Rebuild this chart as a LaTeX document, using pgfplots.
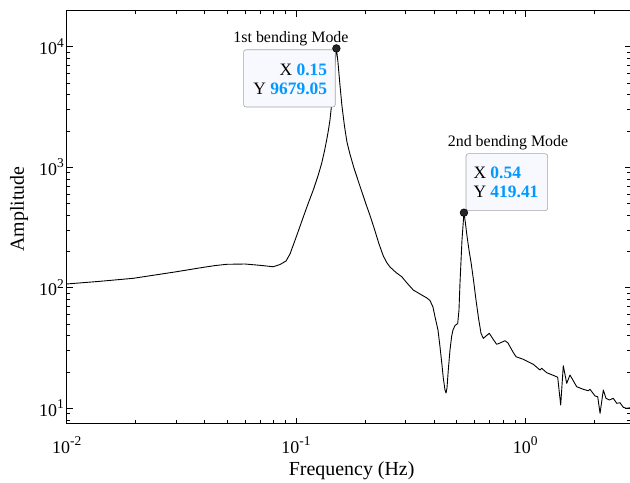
\documentclass[border=0pt]{standalone}
\usepackage{fontspec}
\setmainfont{Liberation Serif}
\usepackage{pgfplots}
\pgfplotsset{compat=1.18}
\definecolor{tipblue}{RGB}{0,153,255}
\definecolor{tipfill}{RGB}{248,248,255}
\definecolor{tipedge}{RGB}{165,165,165}
\newcommand\sups[1]{\raisebox{7.5bp}{\fontsize{13.5}{13.5}\selectfont #1}}
\begin{document}
\begin{tikzpicture}
\begin{axis}[
  name=ax,
  at={(0,0)}, anchor=south west,
  scale only axis, width=564.3bp, height=413bp,
  xmode=log, ymode=log,
  xmin=0.01, xmax=2.89, ymin=7.44, ymax=19900,
  axis line style={line width=0.8bp},
  every tick/.style={black, line width=0.6bp},
  major tick length=6bp, minor tick length=3.5bp,
  tick align=inside,
  xtick={0.01,0.1,1},
  xticklabels={10\sups{-2},10\sups{-1},10\sups{0}},
  minor xtick={0.02,0.03,0.04,0.05,0.06,0.07,0.08,0.09,0.2,0.3,0.4,0.5,0.6,0.7,0.8,0.9,2},
  ytick={10,100,1000,10000},
  yticklabels={10\sups{1},10\sups{2},10\sups{3},10\sups{4}},
  minor ytick={8,9,20,30,40,50,60,70,80,90,200,300,400,500,600,700,800,900,2000,3000,4000,5000,6000,7000,8000,9000},
  tick label style={font=\fontsize{18}{18}\selectfont},
  xticklabel style={anchor=base, inner sep=0pt, yshift=-29.6bp},
  yticklabel style={anchor=east, inner sep=0pt, xshift=-2.7bp},
  xlabel={Frequency (Hz)}, ylabel={Amplitude},
  label style={font=\fontsize{20}{20}\selectfont},
  xlabel style={at={(axis description cs:0.505,0)}, anchor=base, inner sep=0pt, yshift=-52.3bp},
  ylabel style={at={(axis description cs:-0.0845,0.52)}, anchor=center, inner sep=0pt},
]
\addplot[black, line width=0.9bp, line join=round] coordinates {
(0.01,107.4) (0.01397,113.0) (0.01952,119.7) (0.02427,127.5) (0.03018,135.8)
(0.03942,147.6) (0.04433,152.6) (0.04985,156.4) (0.05990,157.3) (0.06966,153.4)
(0.0796,149.3) (0.08516,155.8) (0.09045,166.5) (0.09415,190.4) (0.09732,226.1)
(0.10203,289.9) (0.10760,386.2) (0.11278,495.1) (0.11894,646.9) (0.12468,845.3)
(0.12940,1077) (0.13309,1362) (0.13606,1681) (0.13854,2036) (0.14065,2464)
(0.14249,3099) (0.14422,3974) (0.14641,5824) (0.14833,7756) (0.15,9679.05)
(0.15240,7465) (0.15549,4810) (0.15865,3220) (0.16268,2198) (0.16681,1619)
(0.17191,1287) (0.17896,984.8) (0.18629,783.1) (0.19393,622.6) (0.20188,495.1)
(0.21135,386.2) (0.22112,295.5) (0.23017,230.5) (0.24033,183.3) (0.24942,160.3)
(0.25704,148.5) (0.27297,133.7) (0.28907,123.4) (0.30486,109.4) (0.32467,95.7)
(0.35331,87.0) (0.37259,82.1) (0.38399,78.3) (0.39573,69.15) (0.40376,57.45)
(0.41612,44.57) (0.42457,32.38) (0.43318,22.83) (0.43887,17.81) (0.44642,14.16)
(0.45093,13.37) (0.45549,14.71) (0.46146,20.75) (0.46942,30.40) (0.47750,39.72)
(0.48377,44.57) (0.49359,48.57) (0.50715,50.46) (0.51380,65.3) (0.51899,109.4)
(0.52952,248.8) (0.54,419.41) (0.54739,350.9) (0.55681,268.6) (0.56810,205.6)
(0.57963,163.4) (0.59437,115.8) (0.60954,79.07) (0.62503,56.05) (0.64089,41.84)
(0.6558,38.0) (0.67385,39.72) (0.6966,41.84) (0.72300,37.52) (0.7503,33.9)
(0.77564,34.76) (0.8156,36.3) (0.84065,34.76) (0.8576,32.4) (0.88378,29.27)
(0.9108,26.76) (0.9802,25.46) (1.0837,23.14) (1.159,20.75) (1.179,21.44)
(1.2397,19.71) (1.3472,18.50) (1.3843,18.05) (1.4267,10.63) (1.4644,22.53)
(1.5155,16.09) (1.5663,18.86) (1.6755,15.08) (1.790,14.35) (1.883,13.97)
(1.915,14.35) (2.0137,12.63) (2.069,12.46) (2.118,9.07) (2.189,14.16)
(2.249,12.08) (2.3248,11.70) (2.420,12.08) (2.5035,10.98) (2.588,11.11)
(2.676,10.17) (2.768,9.98) (2.862,10.09)
};
% data tip 1
\node[draw=tipedge, fill=tipfill, rounded corners=2.5bp, line width=0.6bp, inner sep=0pt,
  minimum width=91.7bp, minimum height=57.3bp, anchor=south west,
  xshift=-93.1bp, yshift=-58.9bp] at (axis cs:0.15,9679.05) {};
\node[anchor=base east, inner sep=0pt, xshift=-9.1bp, yshift=-26.6bp, font=\fontsize{17.5}{17.5}\selectfont]
  at (axis cs:0.15,9679.05) {X \textcolor{tipblue}{\textbf{0.15}}};
\node[anchor=base east, inner sep=0pt, xshift=-9.1bp, yshift=-45.6bp, font=\fontsize{17.5}{17.5}\selectfont]
  at (axis cs:0.15,9679.05) {Y \textcolor{tipblue}{\textbf{9679.05}}};
\node[anchor=base, inner sep=0pt, xshift=-45.4bp, yshift=6.4bp, font=\fontsize{16}{16}\selectfont]
  at (axis cs:0.15,9679.05) {1st bending Mode};
% data tip 2
\node[draw=tipedge, fill=tipfill, rounded corners=2.5bp, line width=0.6bp, inner sep=0pt,
  minimum width=81.6bp, minimum height=57bp, anchor=south west,
  xshift=1.8bp, yshift=1.7bp] at (axis cs:0.54,419.41) {};
\node[anchor=base west, inner sep=0pt, xshift=9.4bp, yshift=34.4bp, font=\fontsize{17.5}{17.5}\selectfont]
  at (axis cs:0.54,419.41) {X \textcolor{tipblue}{\textbf{0.54}}};
\node[anchor=base west, inner sep=0pt, xshift=9.4bp, yshift=15bp, font=\fontsize{17.5}{17.5}\selectfont]
  at (axis cs:0.54,419.41) {Y \textcolor{tipblue}{\textbf{419.41}}};
\node[anchor=base, inner sep=0pt, xshift=44.1bp, yshift=66bp, font=\fontsize{16}{16}\selectfont]
  at (axis cs:0.54,419.41) {2nd bending Mode};
\addplot[only marks, mark=*, mark size=3.8bp, mark options={fill=black!85, draw=black, line width=0.6bp}]
  coordinates {(0.15,9679.05) (0.54,419.41)};
\end{axis}
\pgfresetboundingbox
\path (ax.south west) ++(-66.7bp,-59.3bp) rectangle ++(630bp,483bp);
\end{tikzpicture}
\end{document}
